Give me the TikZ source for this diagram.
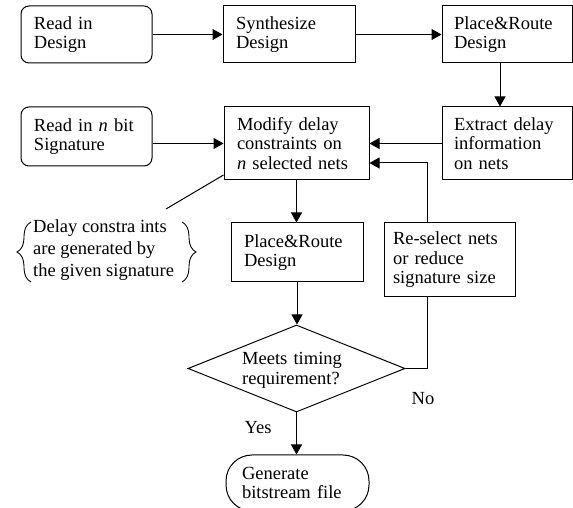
\documentclass[tikz,border=0pt]{standalone}
\usepackage{fontspec}
\setmainfont{Liberation Serif}
\usetikzlibrary{arrows.meta,shapes.geometric,decorations.pathreplacing}
\begin{document}
\begin{tikzpicture}[x=1pt,y=1pt,
  every node/.style={font=\fontsize{18.5}{19.5}\selectfont},
  box/.style={draw, line width=1pt, rectangle, align=left, inner xsep=13pt, inner ysep=0pt},
  rbox/.style={box, rounded corners=8pt},
  arr/.style={line width=1pt, -{Triangle[length=10pt,width=11pt]}},
  ln/.style={line width=1pt},
  bracestyle/.style={line width=0.9pt, decorate, decoration={brace, amplitude=14pt}}]
\useasboundingbox (0,0) rectangle (573,508);
% top row
\node[rbox, minimum height=57pt, text width=105pt] (read1) at (86.5,473.5) {Read in\\Design};
\node[box, minimum height=57pt, text width=106pt] (synth) at (289,473.5) {Synthesize\\Design};
\node[box, minimum height=57pt, inner xsep=12pt, text width=106pt] (pr1) at (507,473.5) {Place\&Route\\Design};
% second row
\node[rbox, minimum height=59pt, text width=105pt] (read2) at (86.5,371.5) {Read in \textit{n} bit\\Signature};
\node[box, minimum height=73pt, text width=119pt] (modify) at (296.5,364.5) {Modify delay\\constraints on\\\textit{n} selected nets};
\node[box, minimum height=73pt, inner xsep=12pt, text width=106pt] (extract) at (507,364.5) {Extract delay\\information\\on nets};
% third row
\node[box, minimum height=59pt, text width=106pt] (pr2) at (297,255.5) {Place\&Route\\Design};
\node[box, minimum height=74pt, inner xsep=9pt, text width=113pt] (resel) at (449.5,248) {Re-select nets\\or reduce\\signature size};
% note with braces
\node[align=left, inner sep=0pt, font=\fontsize{18.5}{22}\selectfont, anchor=west] (note) at (33,257.5) {Delay constra ints\\are generated by\\the given signature};
\draw[bracestyle] (31,226) -- (31,286);
\draw[bracestyle] (182,286) -- (182,226);
% decision
\node[draw, line width=1pt, diamond, minimum width=217pt, minimum height=87pt, inner sep=0pt] (dia) at (296.5,139.5) {};
\node[align=left, inner sep=0pt, text width=105pt, anchor=west] (diatext) at (242,137.5) {Meets timing\\requirement?};
% terminal
\node[box, rounded corners=26pt, minimum height=56pt, inner xsep=16pt, text width=111pt] (gen) at (297.5,25) {Generate\\bitstream file};
% labels
\node (yes) at (258,80) {Yes};
\node (no) at (423,109) {No};
% helper coordinates
\coordinate (ax) at (500,0);
\coordinate (lp) at (427,345);
\coordinate (nt) at (166,299);
% connectors
\draw[arr] (read1.east) -- (synth.west);
\draw[arr] (synth.east) -- (pr1.west);
\draw[arr] (pr1.south -| ax) -- (extract.north -| ax);
\draw[arr] (extract.west) -- (modify.east);
\draw[arr] (read2.east |- modify.west) -- (modify.west);
\draw[arr] (modify.south) -- (modify.south |- pr2.north);
\draw[arr] (pr2.south) -- (pr2.south |- dia.north);
\draw[arr] (dia.south) -- (dia.south |- gen.north);
\draw[ln] (dia.east) -| (resel.south -| lp);
\draw[arr] (resel.north -| lp) |- (modify.east |- lp);
\draw[ln] ([yshift=-31.5pt]modify.west) -- (nt);
\end{tikzpicture}
\end{document}
